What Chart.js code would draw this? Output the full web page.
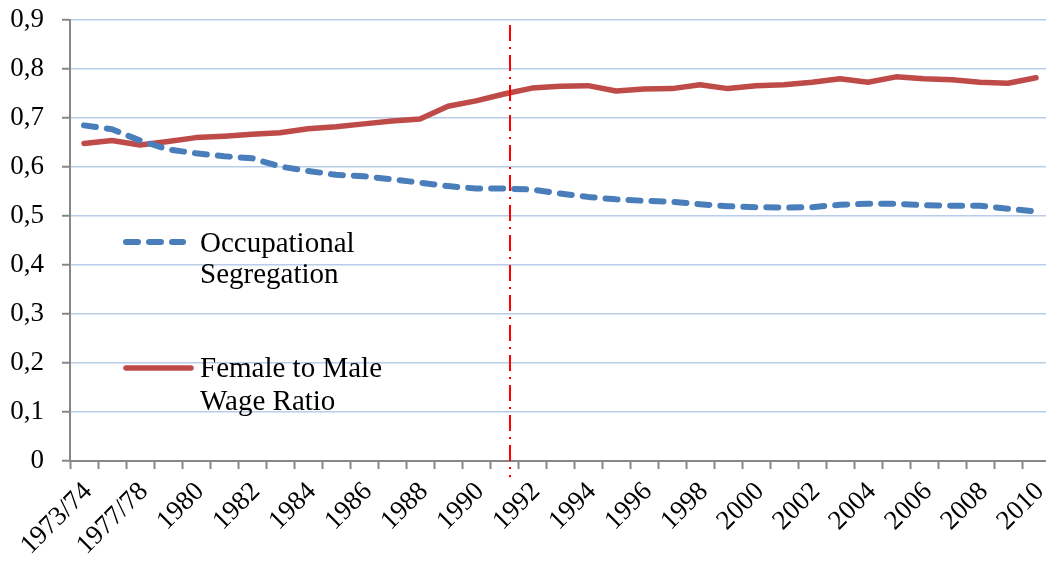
<!DOCTYPE html>
<html>
<head>
<meta charset="utf-8">
<script src="https://cdn.jsdelivr.net/npm/chart.js@4.4.0/dist/chart.umd.min.js"></script>
<style>
html, body { margin: 0; padding: 0; background: #ffffff; overflow: hidden; }
#wrap { position: relative; width: 1052px; height: 565px; }
</style>
</head>
<body>
<div id="wrap"><canvas id="c"></canvas></div>
<script>
// ---- data ----
const categories = ["1973/74","1975/76","1977/78","1979","1980","1981","1982","1983","1984","1985",
  "1986","1987","1988","1989","1990","1991","1992","1993","1994","1995","1996","1997","1998","1999",
  "2000","2001","2002","2003","2004","2005","2006","2007","2008","2009","2010"];
const segregation = [0.685,0.677,0.654,0.636,0.628,0.622,0.618,0.601,0.592,0.584,0.581,0.575,0.568,
  0.561,0.556,0.556,0.554,0.546,0.539,0.534,0.531,0.529,0.524,0.520,0.518,0.517,0.518,0.523,0.525,
  0.525,0.522,0.521,0.521,0.515,0.509];
const wageRatio = [0.648,0.654,0.645,0.652,0.660,0.663,0.667,0.670,0.678,0.682,0.688,0.694,0.698,
  0.724,0.735,0.749,0.761,0.765,0.766,0.755,0.759,0.760,0.768,0.760,0.766,0.768,0.773,0.780,0.773,
  0.784,0.780,0.778,0.773,0.771,0.782];
const seriesNames = [["Occupational", "Segregation"], ["Female to Male", "Wage Ratio"]];
const yMin = 0, yMax = 0.9, yStep = 0.1;
const breakIndex = 15.2;   // position of the vertical marker, in category units

const FONT = "'Liberation Serif', 'Times New Roman', serif";
const BLUE = "#4A7EBB", RED = "#BE4B48", GRID = "#B9CDE8", AXIS = "#878787";
const DASH = [12, 11];

const markerPlugin = {
  id: 'marker',
  afterDatasetsDraw(chart) {
    const ctx = chart.ctx, xs = chart.scales.x, ys = chart.scales.y;
    const x = Math.round(xs.getPixelForValue(breakIndex));
    const top = ys.getPixelForValue(0.89), bottom = ys.getPixelForValue(-0.033);
    ctx.save();
    ctx.strokeStyle = "#FF0000";
    ctx.lineWidth = 2;
    ctx.setLineDash([16, 6, 2, 6]);
    ctx.beginPath();
    ctx.moveTo(x, top);
    ctx.lineTo(x, bottom);
    ctx.stroke();
    ctx.restore();
  }
};

const legendPlugin = {
  id: 'customLegend',
  afterDraw(chart) {
    const ctx = chart.ctx;
    ctx.save();
    ctx.lineCap = 'round';
    // blue dashed sample
    ctx.lineWidth = 6;
    ctx.strokeStyle = BLUE;
    ctx.setLineDash(DASH);
    ctx.beginPath(); ctx.moveTo(126, 242); ctx.lineTo(183, 242); ctx.stroke();
    // red solid sample
    ctx.lineWidth = 5.5;
    ctx.setLineDash([]);
    ctx.strokeStyle = RED;
    ctx.beginPath(); ctx.moveTo(126, 368); ctx.lineTo(191, 368); ctx.stroke();
    ctx.fillStyle = "#000";
    ctx.font = "29px " + FONT;
    ctx.textBaseline = 'alphabetic';
    ctx.textAlign = 'left';
    ctx.fillText(seriesNames[0][0], 200, 252);
    ctx.fillText(seriesNames[0][1], 200, 283);
    ctx.fillText(seriesNames[1][0], 200, 377);
    ctx.fillText(seriesNames[1][1], 200, 410);
    ctx.restore();
  }
};

new Chart(document.getElementById('c'), {
  type: 'line',
  data: {
    labels: categories,
    datasets: [
      { label: seriesNames[0].join(' '), data: segregation, borderColor: BLUE, borderWidth: 6,
        borderDash: DASH, borderCapStyle: 'round', borderJoinStyle: 'round', pointRadius: 0, tension: 0, fill: false },
      { label: seriesNames[1].join(' '), data: wageRatio, borderColor: RED, borderWidth: 5.5,
        borderCapStyle: 'round', borderJoinStyle: 'round', pointRadius: 0, tension: 0, fill: false }
    ]
  },
  options: {
    responsive: true,
    maintainAspectRatio: false,
    animation: false,
    devicePixelRatio: 1,
    layout: { padding: { top: 20, right: 2, left: 0, bottom: 0 } },
    plugins: { legend: { display: false }, tooltip: { enabled: false } },
    scales: {
      x: {
        type: 'category',
        offset: true,
        afterFit(s) { s.height = 104; s.paddingLeft = 0; s.paddingRight = 0; },
        grid: { offset: true, drawOnChartArea: false, drawTicks: true, tickLength: 8, tickColor: AXIS, tickWidth: 2 },
        border: { color: AXIS, width: 2 },
        ticks: {
          autoSkip: false, maxRotation: 45, minRotation: 45, padding: 7, labelOffset: 4,
          color: '#000', font: { family: FONT, size: 27 },
          callback: (v, i) => (i % 2 === 0 ? categories[i] : '')
        }
      },
      y: {
        min: yMin, max: yMax,
        afterFit(s) { s.width = 70; s.paddingTop = 0; s.paddingBottom = 0; },
        grid: { color: GRID, lineWidth: 1.5, tickColor: AXIS, tickLength: 8, tickWidth: 2 },
        border: { color: AXIS, width: 2 },
        ticks: {
          stepSize: yStep, padding: 18, color: '#000', font: { family: FONT, size: 27 },
          callback: v => (Math.abs(v) < 1e-9 ? '0' : (+v).toFixed(1).replace('.', ','))
        }
      }
    }
  },
  plugins: [markerPlugin, legendPlugin]
});
</script>
</body>
</html>
